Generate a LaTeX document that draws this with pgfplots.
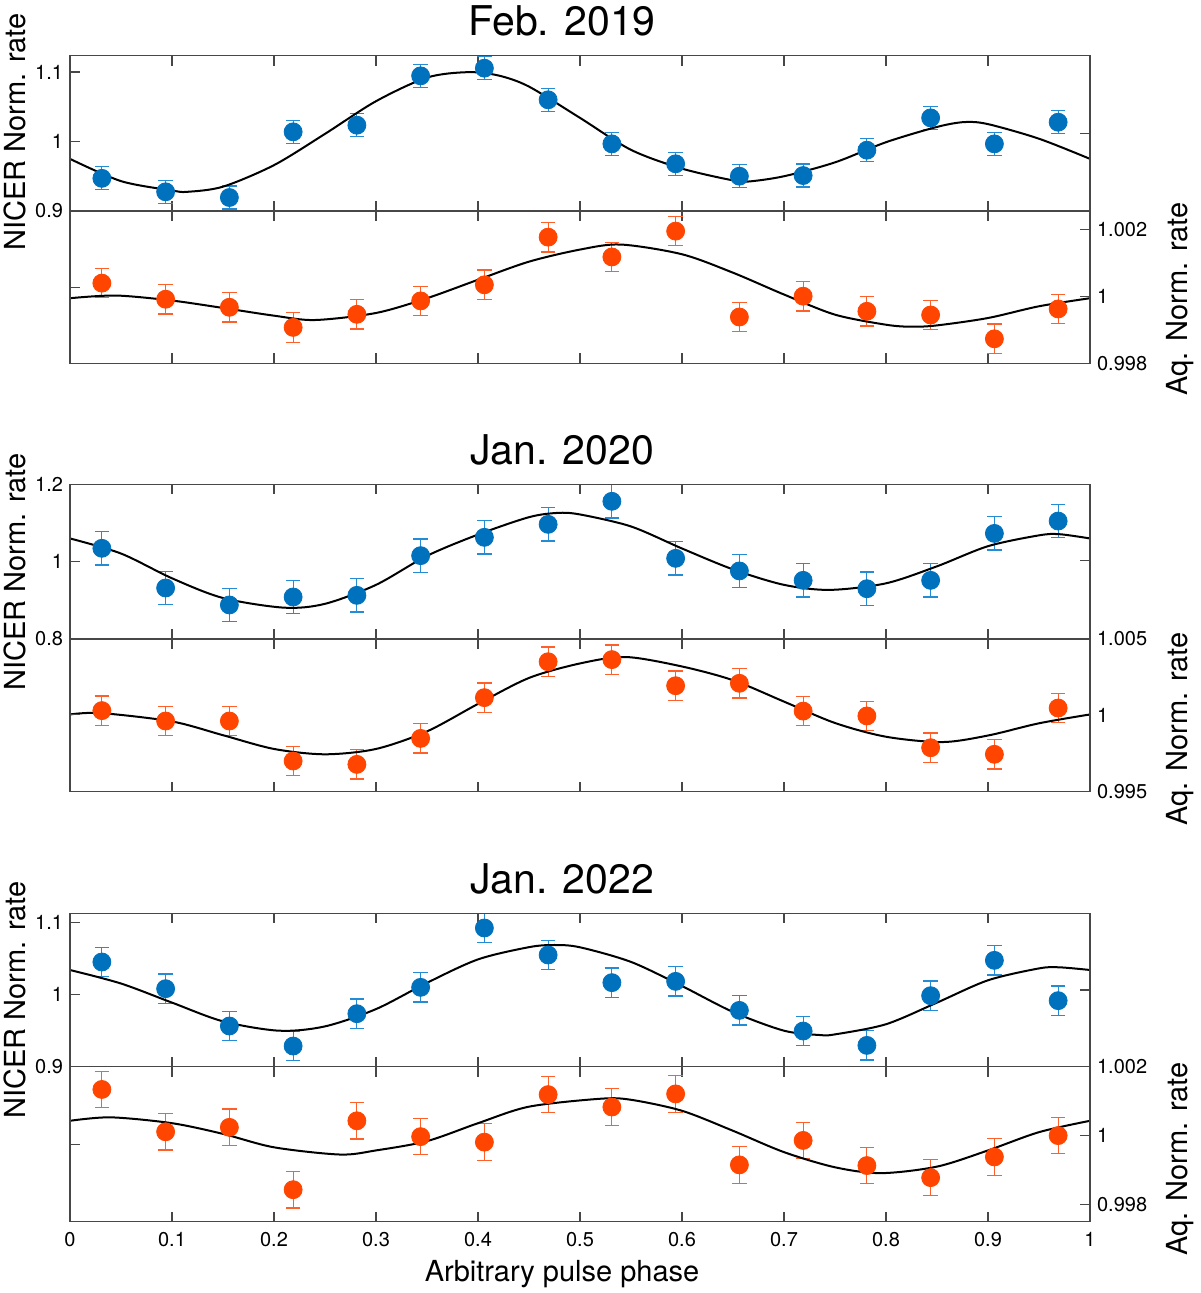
\documentclass[border=0pt]{standalone}
\usepackage{fontspec}
\setmainfont{TeX Gyre Heros}
\usepackage{pgfplots}
\pgfplotsset{compat=1.18}
\definecolor{nb}{RGB}{0,114,189}
\definecolor{nbe}{RGB}{35,140,212}
\definecolor{ao}{RGB}{255,69,0}
\definecolor{aoe}{RGB}{255,95,40}
\pgfplotsset{
 panel/.style={width=510pt, scale only axis, xmin=0, xmax=1,
   xtick={0,0.1,0.2,0.3,0.4,0.5,0.6,0.7,0.8,0.9,1}, xticklabels={},
   xtick pos=both,
   tick align=inside, major tick length=5pt,
   axis line style={black!72, line width=0.55pt},
   every tick/.style={black!72, line width=0.55pt},
   scaled y ticks=false, scaled x ticks=false,
   ticklabel style={font=\fontsize{10}{12}\selectfont},
   /pgf/number format/assume math mode=true,
   anchor=north west,
 },
 topp/.style={panel, ytick pos=left, yticklabel pos=left,
   ylabel={NICER Norm. rate},
   ylabel style={font=\fontsize{14.5}{17}\selectfont, at={(rel axis cs:-0.054,#1)}, anchor=center},
   title style={at={(rel axis cs:0.4824,1)}, anchor=base, yshift=3.85pt, font=\fontsize{20.5}{24}\selectfont},
 },
 botp/.style={panel, ytick pos=right, yticklabel pos=right,
   ylabel={Aq. Norm. rate},
   ylabel style={font=\fontsize{14.5}{17}\selectfont, at={(rel axis cs:1.0882,#1)}, anchor=center},
 },
 stray/.style={width=510pt, scale only axis, xmin=0, xmax=1, xtick=\empty,
   yticklabels={}, tick align=inside, major tick length=5pt,
   axis line style={black!72, line width=0.55pt},
   every tick/.style={black!72, line width=0.55pt},
   ytick pos=#1, anchor=north west},
 nicer/.style={only marks, mark=*, mark size=4.5pt, color=nb,
   error bars/.cd, y dir=both, y explicit,
   error bar style={color=nbe, line width=0.6pt},
   error mark options={rotate=90, mark size=3.6pt, line width=0.6pt, color=nbe}},
 aq/.style={only marks, mark=*, mark size=4.5pt, color=ao,
   error bars/.cd, y dir=both, y explicit,
   error bar style={color=aoe, line width=0.6pt},
   error mark options={rotate=90, mark size=3.6pt, line width=0.6pt, color=aoe}},
 fit/.style={black, line width=1pt, smooth},
}
\begin{document}
\begin{tikzpicture}
\useasboundingbox (0,0) rectangle (600pt,-646.5pt);

% ---------------- Feb. 2019 ----------------
\begin{axis}[topp=0.509, at={(35pt,-27.85pt)}, height=77.65pt,
  ymin=0.9, ymax=1.1235, ytick={0.9,1,1.1}, yticklabels={0.9,1,1.1},
  title={Feb. 2019}]
\addplot[nicer] coordinates {
(0.03125,0.947) +- (0,0.0165) (0.09375,0.9276) +- (0,0.0165) (0.15625,0.9194) +- (0,0.0165)
(0.21875,1.0139) +- (0,0.0165) (0.28125,1.0235) +- (0,0.0165) (0.34375,1.0945) +- (0,0.0165)
(0.40625,1.1055) +- (0,0.0165) (0.46875,1.060) +- (0,0.0165) (0.53125,0.9966) +- (0,0.0165)
(0.59375,0.9679) +- (0,0.0165) (0.65625,0.9501) +- (0,0.0165) (0.71875,0.951) +- (0,0.0165)
(0.78125,0.9875) +- (0,0.0165) (0.84375,1.034) +- (0,0.0165) (0.90625,0.9966) +- (0,0.0165)
(0.96875,1.0278) +- (0,0.0165)};
\addplot[fit] coordinates {(0,0.975)(0.05,0.943)(0.1,0.9295)(0.115,0.9276)(0.15,0.935)(0.2,0.966)(0.25,1.011)(0.3,1.058)(0.35,1.092)(0.39,1.0998)(0.42,1.095)(0.45,1.079)(0.5,1.034)(0.55,0.988)(0.6,0.961)(0.65,0.944)(0.665,0.9424)(0.7,0.950)(0.75,0.970)(0.8,0.999)(0.85,1.021)(0.877,1.028)(0.9,1.025)(0.95,1.004)(1,0.975)};
\end{axis}
\begin{axis}[stray=right, at={(35pt,-27.85pt)}, height=77.65pt, ymin=0.9, ymax=1.1235, ytick={1.012}]
\end{axis}

\begin{axis}[botp=0.422, at={(35pt,-105.5pt)}, height=76.15pt,
  ymin=0.998, ymax=1.00254, ytick={0.998,1,1.002}, yticklabels={0.998,1,1.002}]
\addplot[aq] coordinates {
(0.03125,1.00039) +- (0,0.00044) (0.09375,0.99991) +- (0,0.00044) (0.15625,0.99967) +- (0,0.00044)
(0.21875,0.99907) +- (0,0.00044) (0.28125,0.99946) +- (0,0.00044) (0.34375,0.99986) +- (0,0.00044)
(0.40625,1.00034) +- (0,0.00044) (0.46875,1.00176) +- (0,0.00044) (0.53125,1.00117) +- (0,0.00044)
(0.59375,1.00194) +- (0,0.00044) (0.65625,0.99938) +- (0,0.00044) (0.71875,1.0000) +- (0,0.00044)
(0.78125,0.99955) +- (0,0.00044) (0.84375,0.99944) +- (0,0.00044) (0.90625,0.99873) +- (0,0.00044)
(0.96875,0.99962) +- (0,0.00044)};
\addplot[fit] coordinates {(0,0.99994)(0.045,1.00002)(0.1,0.99987)(0.15,0.99965)(0.2,0.99942)(0.24,0.99929)(0.3,0.9995)(0.35,0.99994)(0.4,1.00049)(0.45,1.00103)(0.5,1.00139)(0.54,1.00154)(0.6,1.00125)(0.65,1.0007)(0.7,1.00005)(0.75,0.99945)(0.8,0.99915)(0.825,0.99909)(0.85,0.99913)(0.9,0.99935)(0.95,0.9997)(1,0.99994)};
\end{axis}
\begin{axis}[stray=left, at={(35pt,-105.5pt)}, height=76.15pt, ymin=0.998, ymax=1.00254, ytick={1.00027}]
\end{axis}

% ---------------- Jan. 2020 ----------------
\begin{axis}[topp=0.433, at={(35pt,-242.15pt)}, height=77.35pt,
  ymin=0.8, ymax=1.2, ytick={0.8,1,1.2}, yticklabels={0.8,1,1.2},
  title={Jan. 2020}]
\addplot[nicer] coordinates {
(0.03125,1.0345) +- (0,0.043) (0.09375,0.9319) +- (0,0.043) (0.15625,0.888) +- (0,0.043)
(0.21875,0.9086) +- (0,0.043) (0.28125,0.9129) +- (0,0.043) (0.34375,1.0155) +- (0,0.043)
(0.40625,1.0629) +- (0,0.043) (0.46875,1.0965) +- (0,0.043) (0.53125,1.156) +- (0,0.043)
(0.59375,1.0086) +- (0,0.043) (0.65625,0.976) +- (0,0.043) (0.71875,0.9517) +- (0,0.043)
(0.78125,0.930) +- (0,0.043) (0.84375,0.9517) +- (0,0.043) (0.90625,1.073) +- (0,0.043)
(0.96875,1.105) +- (0,0.043)};
\addplot[fit] coordinates {(0,1.060)(0.05,1.021)(0.1,0.957)(0.15,0.906)(0.21,0.881)(0.25,0.891)(0.3,0.940)(0.35,1.015)(0.4,1.070)(0.45,1.115)(0.478,1.126)(0.5,1.122)(0.55,1.091)(0.6,1.034)(0.65,0.980)(0.7,0.940)(0.745,0.927)(0.8,0.944)(0.85,0.988)(0.9,1.040)(0.95,1.068)(0.97,1.071)(1,1.060)};
\end{axis}
\begin{axis}[stray=right, at={(35pt,-242.15pt)}, height=77.35pt, ymin=0.8, ymax=1.2, ytick={1.0026}]
\end{axis}

\begin{axis}[botp=0.41, at={(35pt,-319.5pt)}, height=76.35pt,
  ymin=0.995, ymax=1.005, ytick={0.995,1,1.005}, yticklabels={0.995,1,1.005}]
\addplot[aq] coordinates {
(0.03125,1.00031) +- (0,0.00096) (0.09375,0.99963) +- (0,0.00096) (0.15625,0.99963) +- (0,0.00096)
(0.21875,0.99701) +- (0,0.00096) (0.28125,0.99679) +- (0,0.00096) (0.34375,0.99849) +- (0,0.00096)
(0.40625,1.00116) +- (0,0.00096) (0.46875,1.00351) +- (0,0.00096) (0.53125,1.00365) +- (0,0.00096)
(0.59375,1.00194) +- (0,0.00096) (0.65625,1.0021) +- (0,0.00096) (0.71875,1.00028) +- (0,0.00096)
(0.78125,0.99996) +- (0,0.00096) (0.84375,0.99788) +- (0,0.00096) (0.90625,0.99745) +- (0,0.00096)
(0.96875,1.00048) +- (0,0.00096)};
\addplot[fit] coordinates {(0,1.00006)(0.03,1.00015)(0.1,0.9996)(0.15,0.9987)(0.2,0.9978)(0.25,0.99745)(0.3,0.9978)(0.35,0.99895)(0.4,1.00075)(0.45,1.00245)(0.5,1.0034)(0.545,1.00382)(0.6,1.0032)(0.65,1.0023)(0.7,1.0009)(0.75,0.9995)(0.8,0.9986)(0.855,0.99825)(0.9,0.99868)(0.95,0.99948)(1,1.00006)};
\end{axis}
\begin{axis}[stray=left, at={(35pt,-319.5pt)}, height=76.35pt, ymin=0.995, ymax=1.005, ytick={1.00007}]
\end{axis}

% ---------------- Jan. 2022 ----------------
\begin{axis}[topp=0.435, at={(35pt,-456.65pt)}, height=76.7pt,
  ymin=0.9, ymax=1.113, ytick={0.9,1,1.1}, yticklabels={0.9,1,1.1},
  title={Jan. 2022}]
\addplot[nicer] coordinates {
(0.03125,1.0454) +- (0,0.0204) (0.09375,1.0083) +- (0,0.0204) (0.15625,0.9565) +- (0,0.0204)
(0.21875,0.9287) +- (0,0.0204) (0.28125,0.9736) +- (0,0.0204) (0.34375,1.0102) +- (0,0.0204)
(0.40625,1.0926) +- (0,0.0204) (0.46875,1.0551) +- (0,0.0204) (0.53125,1.0167) +- (0,0.0204)
(0.59375,1.0185) +- (0,0.0204) (0.65625,0.9782) +- (0,0.0204) (0.71875,0.9495) +- (0,0.0204)
(0.78125,0.9296) +- (0,0.0204) (0.84375,0.9986) +- (0,0.0204) (0.90625,1.0477) +- (0,0.0204)
(0.96875,0.9917) +- (0,0.0204)};
\addplot[fit] coordinates {(0,1.0343)(0.05,1.0155)(0.1,0.989)(0.15,0.963)(0.205,0.950)(0.25,0.956)(0.3,0.980)(0.35,1.0165)(0.4,1.049)(0.45,1.066)(0.475,1.069)(0.5,1.0658)(0.55,1.0455)(0.6,1.012)(0.65,0.976)(0.7,0.950)(0.735,0.944)(0.75,0.9449)(0.8,0.959)(0.85,0.989)(0.9,1.020)(0.95,1.0365)(0.97,1.038)(1,1.0343)};
\end{axis}
\begin{axis}[stray=right, at={(35pt,-456.65pt)}, height=76.7pt, ymin=0.9, ymax=1.113, ytick={1.0065}]
\end{axis}

\begin{axis}[botp=0.405, at={(35pt,-533.35pt)}, height=77.5pt,
  ymin=0.9975, ymax=1.002, ytick={0.998,1,1.002}, yticklabels={0.998,1,1.002},
  xticklabels={0,0.1,0.2,0.3,0.4,0.5,0.6,0.7,0.8,0.9,1},
  xticklabel style={yshift=-2pt},
  xlabel={Arbitrary pulse phase},
  xlabel style={at={(rel axis cs:0.4824,0)}, anchor=base, yshift=-29.65pt, font=\fontsize{14.5}{17}\selectfont}]
\addplot[aq] coordinates {
(0.03125,1.00134) +- (0,0.00053) (0.09375,1.00011) +- (0,0.00053) (0.15625,1.00024) +- (0,0.00053)
(0.21875,0.99843) +- (0,0.00053) (0.28125,1.00043) +- (0,0.00053) (0.34375,0.99997) +- (0,0.00053)
(0.40625,0.99981) +- (0,0.00053) (0.46875,1.00119) +- (0,0.00053) (0.53125,1.00083) +- (0,0.00053)
(0.59375,1.00121) +- (0,0.00053) (0.65625,0.99915) +- (0,0.00053) (0.71875,0.99986) +- (0,0.00053)
(0.78125,0.99913) +- (0,0.00053) (0.84375,0.99878) +- (0,0.00053) (0.90625,0.99938) +- (0,0.00053)
(0.96875,1.0000) +- (0,0.00053)};
\addplot[fit] coordinates {(0,1.00043)(0.04,1.00053)(0.1,1.00036)(0.15,1.00005)(0.2,0.99966)(0.265,0.99945)(0.3,0.99957)(0.35,0.99984)(0.4,1.00036)(0.45,1.00084)(0.52,1.00107)(0.55,1.00104)(0.6,1.00072)(0.65,1.00014)(0.7,0.99952)(0.75,0.99908)(0.795,0.99891)(0.85,0.9991)(0.9,0.99957)(0.95,1.0001)(1,1.00043)};
\end{axis}
\begin{axis}[stray=left, at={(35pt,-533.35pt)}, height=77.5pt, ymin=0.9975, ymax=1.002, ytick={0.99975}]
\end{axis}
\end{tikzpicture}
\end{document}
